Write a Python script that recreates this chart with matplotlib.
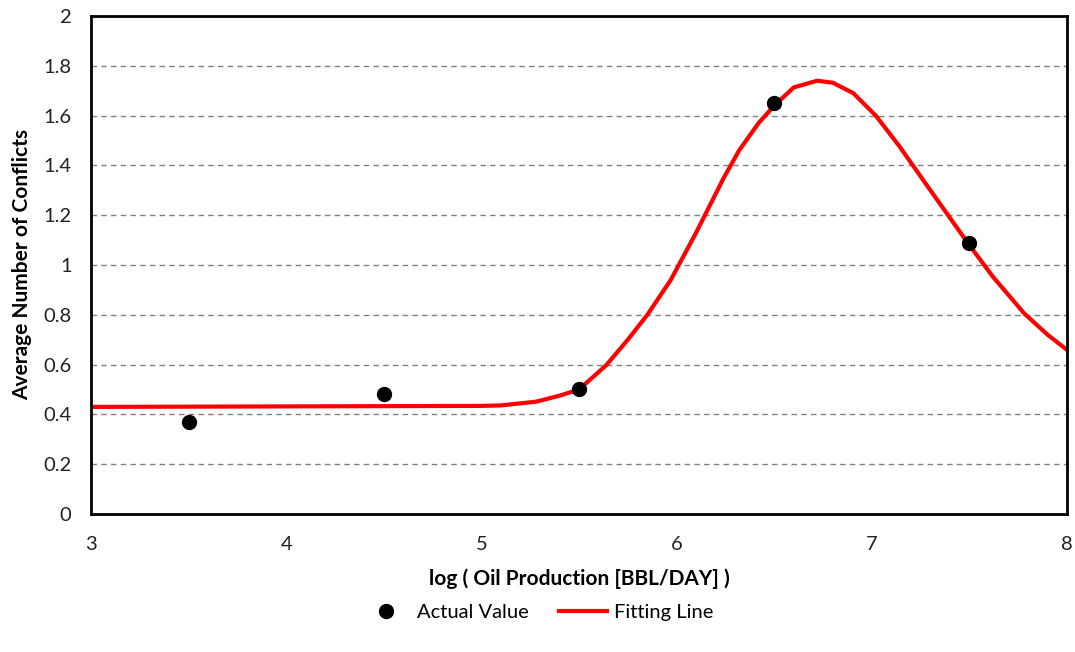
import numpy as np
import matplotlib.pyplot as plt

# Puntos medidos
x_real = [3.5, 4.5, 5.5, 6.5, 7.5]
y_real = [0.37, 0.48, 0.50, 1.65, 1.09]

# Curva de ajuste
x_ajuste = [3.0, 4.0, 4.5, 5.0, 5.1, 5.28, 5.4, 5.5, 5.64, 5.75, 5.85, 5.97,
            6.1, 6.24, 6.32, 6.42, 6.5, 6.6, 6.72, 6.8, 6.905, 7.02, 7.14,
            7.3, 7.49, 7.62, 7.78, 7.9, 8.0]
y_ajuste = [0.43, 0.432, 0.433, 0.434, 0.436, 0.451, 0.475, 0.50, 0.598, 0.70,
            0.80, 0.94, 1.13, 1.348, 1.46, 1.57, 1.64, 1.713, 1.74, 1.732,
            1.69, 1.60, 1.478, 1.30, 1.09, 0.953, 0.806, 0.72, 0.659]

xticks = [3, 4, 5, 6, 7, 8]
yticks = [0, 0.2, 0.4, 0.6, 0.8, 1, 1.2, 1.4, 1.6, 1.8, 2]
ytick_labels = ['0', '0.2', '0.4', '0.6', '0.8', '1', '1.2', '1.4', '1.6', '1.8', '2']

plt.rcParams['font.family'] = ['Lato', 'DejaVu Sans']

fig = plt.figure(figsize=(10.75, 6.52), dpi=100)
ax = fig.add_axes([0.0847, 0.2117, 0.9079, 0.7638])

ax.set_xlim(3, 8)
ax.set_ylim(0, 2)
ax.set_xticks(xticks)
ax.set_yticks(yticks)
ax.set_yticklabels(ytick_labels)
ax.tick_params(length=0, labelsize=14.5, colors='#222222')
ax.tick_params(axis='x', pad=16)
ax.tick_params(axis='y', pad=14)

# Lineas de la cuadricula
for v in yticks[1:-1]:
    ax.axhline(v, color='#808080', lw=1, ls=(0, (4, 3)), zorder=0)

for s in ax.spines.values():
    s.set_linewidth(2)
    s.set_color('black')

linea, = ax.plot(x_ajuste, y_ajuste, color='#ff0000', lw=3, label='Fitting Line', zorder=2)
puntos, = ax.plot(x_real, y_real, 'o', color='black', ms=10, label='Actual Value', zorder=3)

ax.set_xlabel('log ( Oil Production [BBL/DAY] )', fontsize=15, fontweight='bold', labelpad=11)
ax.set_ylabel('Average Number of Conflicts', fontsize=15, fontweight='bold', labelpad=8)

fig.legend(handles=[puntos, linea], loc='center', bbox_to_anchor=(0.5, 0.061), ncol=2,
           frameon=False, fontsize=14.5, handlelength=2.4, columnspacing=1.5, handletextpad=0.35)

plt.savefig('out.png', dpi=100)
